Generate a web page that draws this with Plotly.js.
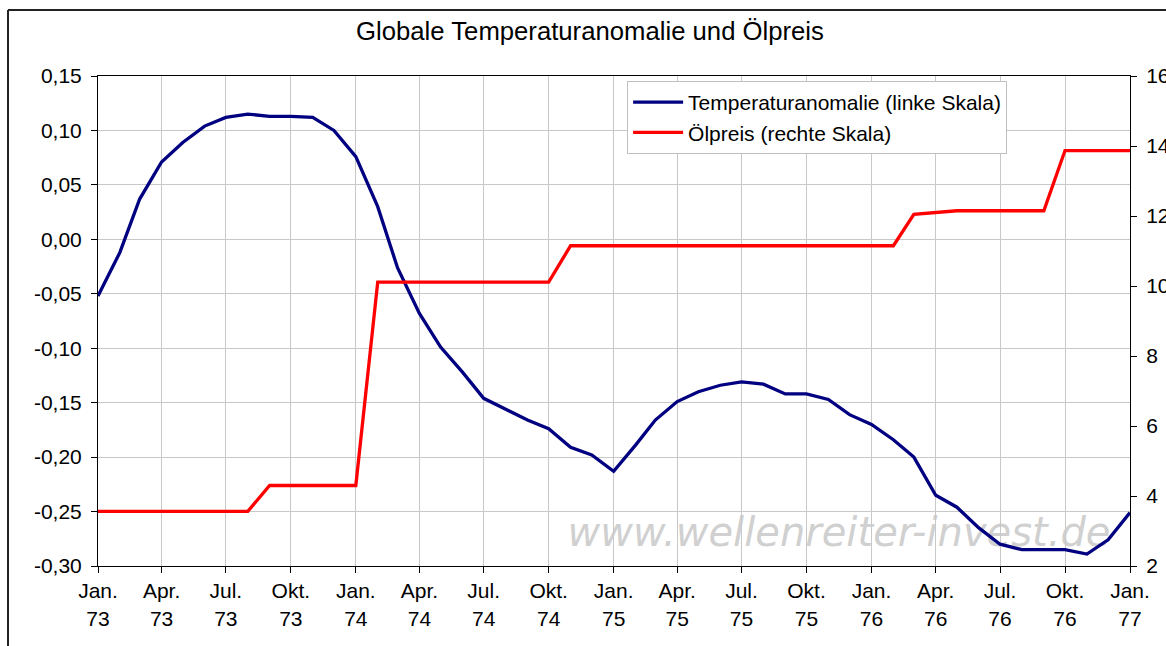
<!DOCTYPE html>
<html>
<head>
<meta charset="utf-8">
<script src="https://cdn.plot.ly/plotly-3.0.1.min.js"></script>
<style>
  html, body { margin: 0; padding: 0; background: #ffffff; }
  #chart { width: 1166px; height: 646px; }
</style>
</head>
<body>
<div id="chart"></div>
<script>
// ---- Data ----
var months = [
  '1973-01-01','1973-02-01','1973-03-01','1973-04-01','1973-05-01','1973-06-01',
  '1973-07-01','1973-08-01','1973-09-01','1973-10-01','1973-11-01','1973-12-01',
  '1974-01-01','1974-02-01','1974-03-01','1974-04-01','1974-05-01','1974-06-01',
  '1974-07-01','1974-08-01','1974-09-01','1974-10-01','1974-11-01','1974-12-01',
  '1975-01-01','1975-02-01','1975-03-01','1975-04-01','1975-05-01','1975-06-01',
  '1975-07-01','1975-08-01','1975-09-01','1975-10-01','1975-11-01','1975-12-01',
  '1976-01-01','1976-02-01','1976-03-01','1976-04-01','1976-05-01','1976-06-01',
  '1976-07-01','1976-08-01','1976-09-01','1976-10-01','1976-11-01','1976-12-01',
  '1977-01-01'
];

var temperatureAnomaly = [
  -0.052, -0.012, 0.037, 0.071, 0.089, 0.104, 0.112, 0.115, 0.113, 0.113, 0.112, 0.100,
   0.076,  0.030, -0.026, -0.068, -0.099, -0.122, -0.146, -0.156, -0.166, -0.174, -0.191, -0.198,
  -0.213, -0.189, -0.166, -0.149, -0.140, -0.134, -0.131, -0.133, -0.142, -0.142, -0.147, -0.161,
  -0.170, -0.184, -0.200, -0.235, -0.246, -0.265, -0.280, -0.285, -0.285, -0.285, -0.289, -0.276,
  -0.251
];

var oilPrice = [
  3.56, 3.56, 3.56, 3.56, 3.56, 3.56, 3.56, 3.56, 4.30, 4.30, 4.30, 4.30,
  4.30, 10.11, 10.11, 10.11, 10.11, 10.11, 10.11, 10.11, 10.11, 10.11, 11.15, 11.15,
  11.15, 11.15, 11.15, 11.15, 11.15, 11.15, 11.15, 11.15, 11.15, 11.15, 11.15, 11.15,
  11.15, 11.15, 12.05, 12.10, 12.15, 12.15, 12.15, 12.15, 12.15, 13.87, 13.87, 13.87,
  13.87
];

var seriesNames = ['Temperaturanomalie (linke Skala)', 'Ölpreis (rechte Skala)'];
var chartTitle = 'Globale Temperaturanomalie und Ölpreis';
var watermarkText = 'www.wellenreiter-invest.de';

var xTickVals = [
  '1973-01-01','1973-04-01','1973-07-01','1973-10-01',
  '1974-01-01','1974-04-01','1974-07-01','1974-10-01',
  '1975-01-01','1975-04-01','1975-07-01','1975-10-01',
  '1976-01-01','1976-04-01','1976-07-01','1976-10-01',
  '1977-01-01'
];
var xTickText = [
  'Jan.<br>73','Apr.<br>73','Jul.<br>73','Okt.<br>73',
  'Jan.<br>74','Apr.<br>74','Jul.<br>74','Okt.<br>74',
  'Jan.<br>75','Apr.<br>75','Jul.<br>75','Okt.<br>75',
  'Jan.<br>76','Apr.<br>76','Jul.<br>76','Okt.<br>76',
  'Jan.<br>77'
];
var yTickVals = [-0.30, -0.25, -0.20, -0.15, -0.10, -0.05, 0.00, 0.05, 0.10, 0.15];
var yTickText = ['-0,30','-0,25','-0,20','-0,15','-0,10','-0,05','0,00','0,05','0,10','0,15'];
var y2TickVals = [2, 4, 6, 8, 10, 12, 14, 16];
var y2TickText = ['2','4','6','8','10','12','14','16'];

// ---- Chart ----
var FONT = 'Liberation Sans, Arial, sans-serif';

var traces = [
  {
    x: months, y: temperatureAnomaly, name: seriesNames[0],
    type: 'scatter', mode: 'lines', yaxis: 'y',
    line: { color: '#000080', width: 3.3 }
  },
  {
    x: months, y: oilPrice, name: seriesNames[1],
    type: 'scatter', mode: 'lines', yaxis: 'y2',
    line: { color: '#ff0000', width: 3.3 }
  }
];

var layout = {
  width: 1166, height: 646, autosize: false,
  margin: { l: 98, r: 36, t: 76, b: 80, pad: 0 },
  paper_bgcolor: '#ffffff', plot_bgcolor: '#ffffff',
  font: { family: FONT, size: 21, color: '#000000' },
  title: {
    text: chartTitle, font: { family: FONT, size: 25.7, color: '#000000' },
    x: 0.506, xanchor: 'center', y: 0.952, yanchor: 'middle'
  },
  showlegend: true,
  legend: {
    x: 0.5127, xanchor: 'left', y: 0.990, yanchor: 'top',
    bgcolor: '#ffffff', bordercolor: '#c0c0c0', borderwidth: 1,
    font: { family: FONT, size: 21, color: '#000000' },
    itemwidth: 50, tracegroupgap: 0
  },
  xaxis: {
    type: 'date', range: ['1973-01-01', '1977-01-01'],
    tickmode: 'array', tickvals: xTickVals, ticktext: xTickText,
    ticks: 'outside', ticklen: 6, tickcolor: '#000000', tickwidth: 1,
    showgrid: true, gridcolor: '#c8c8c8', gridwidth: 1,
    showline: true, linecolor: '#000000', linewidth: 1, mirror: true,
    zeroline: false, tickangle: 0,
    tickfont: { family: FONT, size: 21, color: '#000000' }
  },
  yaxis: {
    range: [-0.30, 0.15],
    tickmode: 'array', tickvals: yTickVals, ticktext: yTickText,
    ticks: 'outside', ticklen: 6, tickcolor: '#000000',
    showgrid: true, gridcolor: '#c8c8c8', gridwidth: 1,
    showline: true, linecolor: '#000000', linewidth: 1, mirror: false,
    zeroline: false, ticklabelstandoff: 5,
    tickfont: { family: FONT, size: 21, color: '#000000' }
  },
  yaxis2: {
    overlaying: 'y', side: 'right', range: [2, 16],
    tickmode: 'array', tickvals: y2TickVals, ticktext: y2TickText,
    ticks: 'outside', ticklen: 6, tickcolor: '#000000',
    showgrid: false, zeroline: false,
    showline: true, linecolor: '#000000', linewidth: 1,
    ticklabelstandoff: 5,
    tickfont: { family: FONT, size: 21, color: '#000000' }
  },
  shapes: [
    {
      type: 'rect', xref: 'paper', yref: 'paper', layer: 'below',
      x0: 0.436, x1: 1.0, y0: 0.02, y1: 0.13,
      line: { width: 0 }, fillcolor: 'rgba(0,0,0,0)',
      label: {
        text: watermarkText, textposition: 'middle center',
        font: { family: 'DejaVu Sans, Verdana, sans-serif', size: 40, color: '#d0d0d0', style: 'italic' }
      }
    },
    { type: 'line', xref: 'paper', yref: 'paper', layer: 'above',
      x0: -0.0872, x1: -0.0872, y0: -0.3, y1: 1.1346,
      line: { color: '#222222', width: 2 } },
    { type: 'line', xref: 'paper', yref: 'paper', layer: 'above',
      x0: -0.0872, x1: 1.2, y0: 1.1346, y1: 1.1346,
      line: { color: '#222222', width: 2 } }
  ]
};

Plotly.newPlot('chart', traces, layout, { displayModeBar: false, staticPlot: true });
</script>
</body>
</html>
